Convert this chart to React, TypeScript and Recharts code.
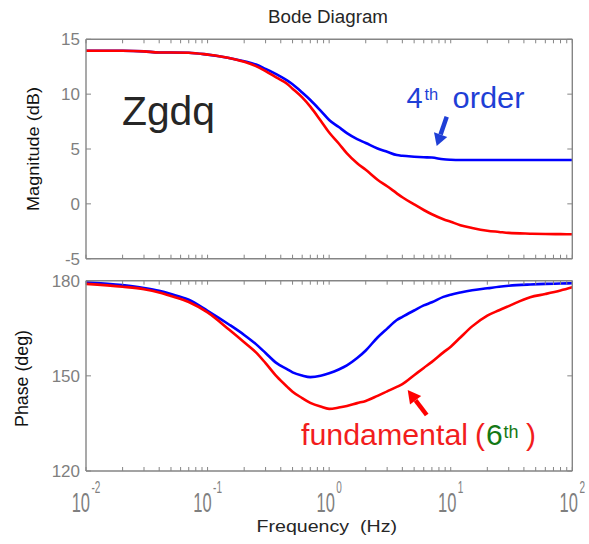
import React from 'react';
import { LineChart, Line, XAxis, YAxis } from 'recharts';

// ---------- data ----------
const FREQ = [0.01, 0.02, 0.03, 0.04, 0.05, 0.07, 0.1, 0.15, 0.2, 0.25, 0.3, 0.37, 0.45, 0.5, 0.6, 0.7, 0.85, 1, 1.2, 1.4, 1.7, 2, 2.5, 3, 3.6, 4, 5, 6, 7, 8.7, 10, 12, 15, 20, 25, 30, 45, 60, 80, 100];

const MAG_BLUE = [13.95, 13.95, 13.9, 13.8, 13.8, 13.78, 13.6, 13.3, 13.0, 12.7, 12.3, 11.8, 11.25, 10.9, 10.15, 9.47, 8.5, 7.65, 7.0, 6.45, 5.9, 5.55, 5.05, 4.75, 4.45, 4.38, 4.3, 4.25, 4.22, 4.06, 4.02, 4.0, 4.0, 4.0, 4.0, 4.0, 4.0, 4.0, 4.0, 4.0];
const MAG_RED = [13.95, 13.95, 13.9, 13.8, 13.8, 13.78, 13.6, 13.3, 12.95, 12.55, 12.1, 11.5, 10.95, 10.5, 9.7, 8.86, 7.6, 6.5, 5.5, 4.6, 3.7, 3.1, 2.2, 1.6, 0.96, 0.6, -0.05, -0.56, -0.95, -1.4, -1.63, -1.95, -2.2, -2.45, -2.56, -2.65, -2.72, -2.75, -2.76, -2.77];

const PHASE_BLUE = [179.5, 178.6, 177.7, 176.8, 175.8, 174.0, 170.5, 166.2, 162.9, 160.0, 157.2, 154.0, 152.1, 151.1, 150.1, 149.6, 150.0, 150.8, 152.0, 153.3, 155.6, 158.0, 162.1, 164.9, 167.6, 168.6, 170.6, 172.2, 173.2, 174.9, 175.6, 176.3, 177.0, 177.6, 178.1, 178.4, 178.8, 179.0, 179.1, 179.2];
const PHASE_RED = [179.0, 178.1, 177.3, 176.3, 175.2, 173.3, 170.0, 164.6, 160.6, 157.4, 154.0, 149.8, 146.6, 145.0, 143.0, 141.5, 140.3, 139.6, 140.0, 140.5, 141.4, 142.1, 143.7, 145.1, 146.5, 147.4, 150.2, 152.5, 154.4, 157.4, 159.2, 162.1, 165.6, 169.0, 170.7, 172.0, 174.8, 175.8, 176.9, 177.9];

const X_TICKS = [0.01, 0.02, 0.03, 0.04, 0.05, 0.06, 0.07, 0.08, 0.09, 0.1, 0.2, 0.3, 0.4, 0.5, 0.6, 0.7, 0.8, 0.9, 1, 2, 3, 4, 5, 6, 7, 8, 9, 10, 20, 30, 40, 50, 60, 70, 80, 90, 100];
const DECADE_TICKS = [0.01, 0.1, 1, 10, 100];
const DECADE_EXP = ['-2', '-1', '0', '1', '2'];
const MAG_TICKS = [-5, 0, 5, 10, 15];
const PHASE_TICKS = [120, 150, 180];

const magData = FREQ.map((f, i) => ({ f, blue: MAG_BLUE[i], red: MAG_RED[i] }));
const phaseData = FREQ.map((f, i) => ({ f, blue: PHASE_BLUE[i], red: PHASE_RED[i] }));

// ---------- style ----------
const FONT = '"Liberation Sans", Arial, Helvetica, sans-serif';
const TICK_GRAY = '#7f7f7f';
const AXIS_GRAY = '#858585';
const BLUE = '#0000ff';
const RED = '#ff0000';
const BLUE_TXT = '#1f3fd6';
const RED_TXT = '#f21d1d';
const GREEN_TXT = '#147814';

const EmptyTick = () => <g />;

const DecadeTick = (props: any) => {
  const { x, y, payload } = props;
  const idx = DECADE_TICKS.indexOf(payload.value);
  if (idx < 0) return <g />;
  return (
    <text
      transform={`translate(${x},${y + 36.7}) scale(1,1.72)`}
      textAnchor="middle"
      fill={TICK_GRAY}
      fontSize={16.5}
      fontFamily={FONT}
    >
      <tspan>10</tspan>
      <tspan dy={-11} dx={1.5} fontSize={10}>{DECADE_EXP[idx]}</tspan>
    </text>
  );
};

function Panel(props: any) {
  const { data, domain, yTicks, height, margin, xLabels } = props;
  const axisLine = { stroke: AXIS_GRAY, strokeWidth: 1.4 };
  const tickLine = { stroke: AXIS_GRAY, strokeWidth: 1 };
  return (
    <LineChart width={589} height={height} data={data} margin={margin}>
      <XAxis
        xAxisId="b"
        dataKey="f"
        type="number"
        scale="log"
        domain={[0.01, 100]}
        allowDataOverflow
        ticks={X_TICKS}
        interval={0}
        height={1}
        tickSize={-4}
        tickMargin={8}
        axisLine={axisLine}
        tickLine={tickLine}
        tick={xLabels ? <DecadeTick /> : <EmptyTick />}
      />
      <XAxis
        xAxisId="t"
        orientation="top"
        dataKey="f"
        type="number"
        scale="log"
        domain={[0.01, 100]}
        allowDataOverflow
        ticks={X_TICKS}
        interval={0}
        height={1}
        tickSize={-4}
        axisLine={axisLine}
        tickLine={tickLine}
        tick={<EmptyTick />}
      />
      <YAxis
        yAxisId="l"
        type="number"
        domain={domain}
        allowDataOverflow
        ticks={yTicks}
        interval={0}
        width={1}
        tickSize={-5}
        tickMargin={11}
        axisLine={axisLine}
        tickLine={tickLine}
        tick={{ fill: TICK_GRAY, fontSize: 17, fontFamily: FONT }}
      />
      <YAxis
        yAxisId="r"
        orientation="right"
        type="number"
        domain={domain}
        allowDataOverflow
        ticks={yTicks}
        interval={0}
        width={1}
        tickSize={-5}
        axisLine={axisLine}
        tickLine={tickLine}
        tick={<EmptyTick />}
      />
      <Line xAxisId="b" yAxisId="l" type="monotone" dataKey="blue" stroke={BLUE} strokeWidth={2.6} dot={false} isAnimationActive={false} />
      <Line xAxisId="b" yAxisId="l" type="monotone" dataKey="red" stroke={RED} strokeWidth={2.6} dot={false} isAnimationActive={false} />
    </LineChart>
  );
}

export default function App() {
  return (
    <div style={{ position: 'absolute', left: 0, top: 0, width: 589, height: 544, background: '#fff', fontFamily: FONT }}>
      <div style={{ position: 'absolute', left: 0, top: 0 }}>
        <Panel
          data={magData}
          domain={[-5, 15]}
          yTicks={MAG_TICKS}
          height={270}
          margin={{ top: 38.3, right: 15.7, bottom: 10.3, left: 85 }}
          xLabels={false}
        />
      </div>
      <div style={{ position: 'absolute', left: 0, top: 270 }}>
        <Panel
          data={phaseData}
          domain={[120, 180]}
          yTicks={PHASE_TICKS}
          height={274}
          margin={{ top: 9.7, right: 15.7, bottom: 72, left: 85 }}
          xLabels={true}
        />
      </div>
      <svg width={589} height={544} style={{ position: 'absolute', left: 0, top: 0, pointerEvents: 'none' }}>
        <text x={268} y={22.7} fontSize={17.5} fill="#262626" fontFamily={FONT} textLength={120} lengthAdjust="spacingAndGlyphs">Bode Diagram</text>
        <text transform="translate(38.5,211) rotate(-90)" fontSize={17} fill="#111" fontFamily={FONT} textLength={124} lengthAdjust="spacingAndGlyphs">Magnitude (dB)</text>
        <text transform="translate(28,427) rotate(-90)" fontSize={17.5} fill="#111" fontFamily={FONT} textLength={97} lengthAdjust="spacingAndGlyphs">Phase (deg)</text>
        <text x={256.5} y={532} fontSize={17} fill="#262626" fontFamily={FONT} style={{ whiteSpace: 'pre' }} textLength={140.5} lengthAdjust="spacingAndGlyphs">{'Frequency  (Hz)'}</text>
        <text x={122} y={125} fontSize={40} fill="#262626" fontFamily={FONT} textLength={93} lengthAdjust="spacingAndGlyphs">Zgdq</text>
        <text x={406.5} y={108.3} fontSize={29} fill={BLUE_TXT} fontFamily={FONT}>4</text>
        <text x={424.5} y={100} fontSize={16.5} fill={BLUE_TXT} fontFamily={FONT}>th</text>
        <text x={452.5} y={108.3} fontSize={29} fill={BLUE_TXT} fontFamily={FONT} textLength={72} lengthAdjust="spacingAndGlyphs">order</text>
        <text x={301} y={445} fontSize={30} fill={RED_TXT} fontFamily={FONT} textLength={167} lengthAdjust="spacingAndGlyphs">fundamental</text>
        <text x={475} y={445} fontSize={30} fill={RED_TXT} fontFamily={FONT}>(</text>
        <text x={486} y={445} fontSize={30} fill={GREEN_TXT} fontFamily={FONT}>6</text>
        <text x={503.5} y={438} fontSize={18} fill={GREEN_TXT} fontFamily={FONT}>th</text>
        <text x={526} y={445} fontSize={30} fill={RED_TXT} fontFamily={FONT}>)</text>
        {/* blue arrow */}
        <line x1={446.7} y1={116.7} x2={440.6} y2={134.6} stroke={BLUE_TXT} strokeWidth={4.5} />
        <polygon points="436.7,146 447.2,136.9 434.0,132.3" fill={BLUE_TXT} />
        {/* red arrow */}
        <line x1={426.7} y1={415} x2={415.6} y2={400.3} stroke="#ff0000" strokeWidth={4.5} />
        <polygon points="407.7,390 421.2,396.1 410.0,404.5" fill="#ff0000" />
      </svg>
    </div>
  );
}
